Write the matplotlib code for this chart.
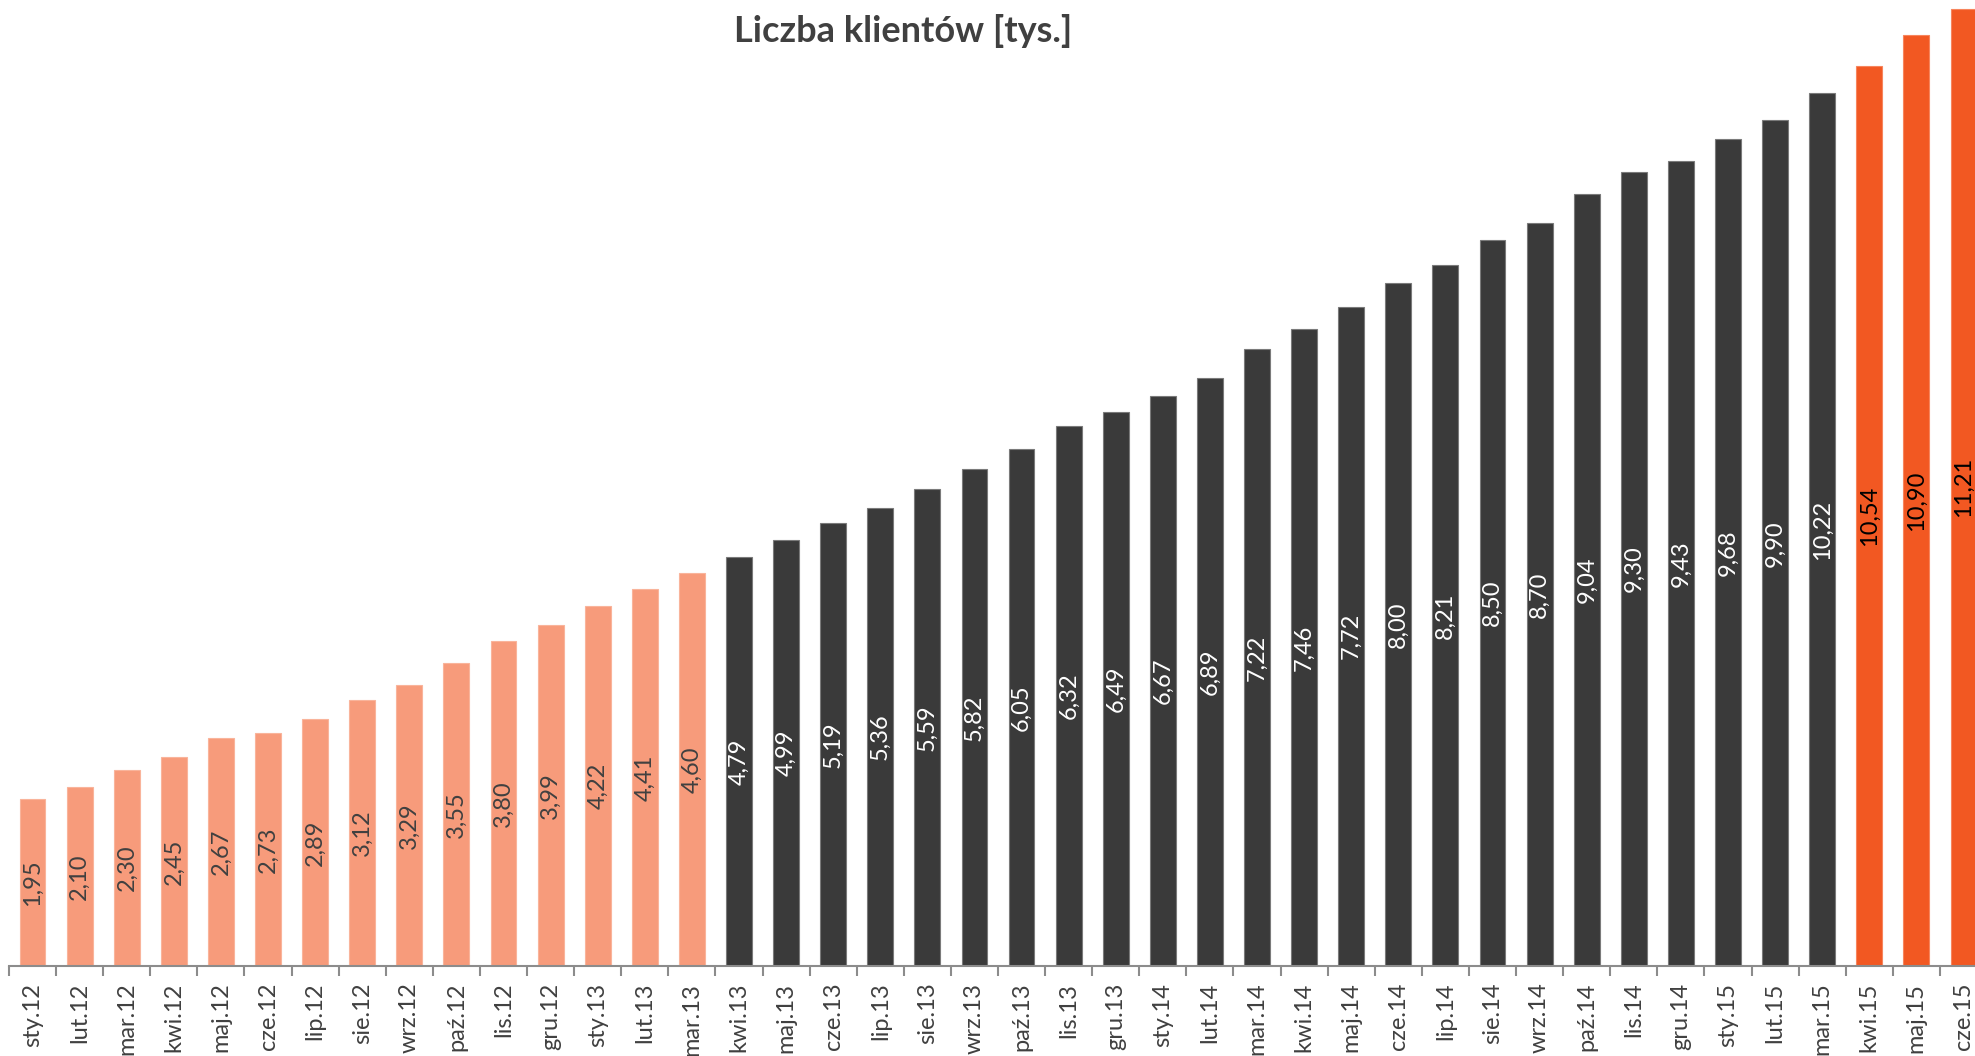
import matplotlib.pyplot as plt

# miesiące i liczba klientów [tys.]
months = ['sty', 'lut', 'mar', 'kwi', 'maj', 'cze', 'lip', 'sie', 'wrz', 'paź', 'lis', 'gru']
labels = [f'{m}.{y}' for y in ['12', '13', '14', '15'] for m in months][:42]

values = [1.95, 2.10, 2.30, 2.45, 2.67, 2.73, 2.89, 3.12, 3.29, 3.55, 3.80, 3.99,
          4.22, 4.41, 4.60, 4.79, 4.99, 5.19, 5.36, 5.59, 5.82, 6.05, 6.32, 6.49,
          6.67, 6.89, 7.22, 7.46, 7.72, 8.00, 8.21, 8.50, 8.70, 9.04, 9.30, 9.43,
          9.68, 9.90, 10.22, 10.54, 10.90, 11.21]

# okres: historia (do mar.13), dane (kwi.13 - mar.15), najnowsze (kwi.15 - cze.15)
segment = ['hist'] * 15 + ['main'] * 24 + ['new'] * 3

fill = {'hist': '#F79B7B', 'main': '#3A3A3A', 'new': '#F25822'}
edge = {'hist': '#F9B49B', 'main': '#7A7A7A', 'new': '#F7855D'}
text_col = {'hist': '#404040', 'main': '#FFFFFF', 'new': '#000000'}

plt.rcParams['font.family'] = ['Lato', 'DejaVu Sans']

W, H = 1975, 1056
fig = plt.figure(figsize=(W / 100, H / 100), dpi=100)
ax = fig.add_axes([9 / W, 90 / H, 1978 / W, 966 / H])

x = list(range(len(values)))
ax.bar(x, values, width=0.55,
       color=[fill[s] for s in segment],
       edgecolor=[edge[s] for s in segment], linewidth=0.8)

for xi, v, s in zip(x, values, segment):
    ax.text(xi, v / 2, f'{v:.2f}'.replace('.', ','), rotation=90,
            ha='center', va='center', fontsize=17, color=text_col[s])

ax.set_xlim(-0.5, len(values) - 0.5)
ax.set_ylim(0, 11.31)

for side in ['left', 'right', 'top']:
    ax.spines[side].set_visible(False)
ax.spines['bottom'].set_color('#8C8C8C')
ax.spines['bottom'].set_linewidth(1.5)
ax.set_yticks([])

ax.set_xticks(x)
ax.set_xticklabels(labels, rotation=90, fontsize=17, color='#404040')
ax.tick_params(axis='x', which='major', length=0, pad=12)
ax.set_xticks([i - 0.5 for i in range(len(values) + 1)], minor=True)
ax.tick_params(axis='x', which='minor', length=7, width=1.5, color='#8C8C8C')

fig.text(903 / W, 1 - 14 / H, 'Liczba klientów [tys.]', ha='center', va='top',
         fontsize=26, fontweight='bold', color='#404040')

fig.savefig('out.png', dpi=100)
